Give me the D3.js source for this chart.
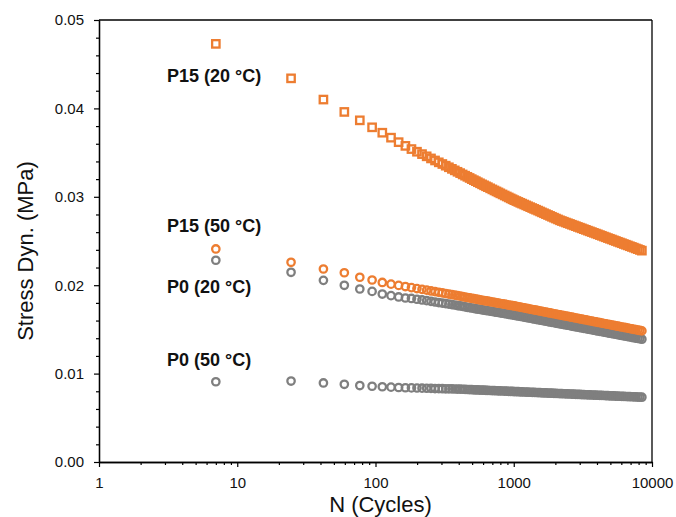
<!DOCTYPE html>
<html>
<head>
<meta charset="utf-8">
<script src="https://cdn.jsdelivr.net/npm/d3@7"></script>
<style>
  html, body { margin: 0; padding: 0; background: #fff; }
  svg { display: block; }
  text { font-family: "Liberation Sans", Arial, sans-serif; }
</style>
</head>
<body>
<svg id="chart" width="676" height="517"></svg>
<script>
// ---------------- DATA ----------------
const cycles = [
  7, 24.5, 42, 59.5, 77, 94.5, 112, 129.5, 147, 164.5,
  182, 199.5, 217, 234.5, 252, 269.5, 287, 304.5, 322, 339.5,
  357, 374.5, 392, 409.5, 427, 444.5, 462, 479.5, 497, 514.5,
  532, 550, 570, 590, 610, 630, 650, 675, 700, 725,
  750, 775, 800, 830, 860, 890, 920, 950, 980, 1010,
  1045, 1080, 1115, 1150, 1190, 1230, 1270, 1315, 1360, 1405,
  1450, 1500, 1550, 1600, 1655, 1710, 1770, 1830, 1890, 1955,
  2020, 2090, 2160, 2230, 2305, 2385, 2465, 2550, 2635, 2725,
  2815, 2910, 3010, 3110, 3215, 3325, 3440, 3555, 3675, 3800,
  3930, 4060, 4200, 4340, 4490, 4640, 4800, 4960, 5130, 5300,
  5480, 5670, 5860, 6060, 6260, 6470, 6690, 6920, 7150, 7390,
  7640, 7900, 8170, 8450
];

const p15_20C = [
  0.0473, 0.0434, 0.0410, 0.0396, 0.03865, 0.03786, 0.03725, 0.03669, 0.03618, 0.03576,
  0.03540, 0.03510, 0.03483, 0.03458, 0.03434, 0.03411, 0.03390, 0.03371, 0.03352, 0.03334,
  0.03316, 0.03299, 0.03283, 0.03268, 0.03253, 0.03239, 0.03226, 0.03213, 0.03200, 0.03188,
  0.03177, 0.03165, 0.03153, 0.03141, 0.03130, 0.03119, 0.03109, 0.03096, 0.03084, 0.03072,
  0.03061, 0.03050, 0.03039, 0.03027, 0.03015, 0.03004, 0.02993, 0.02982, 0.02972, 0.02962,
  0.02952, 0.02942, 0.02932, 0.02923, 0.02913, 0.02903, 0.02893, 0.02883, 0.02873, 0.02863,
  0.02854, 0.02844, 0.02834, 0.02824, 0.02814, 0.02804, 0.02794, 0.02784, 0.02774, 0.02764,
  0.02754, 0.02744, 0.02734, 0.02726, 0.02718, 0.02709, 0.02701, 0.02693, 0.02684, 0.02676,
  0.02668, 0.02659, 0.02651, 0.02643, 0.02634, 0.02626, 0.02617, 0.02609, 0.02601, 0.02592,
  0.02584, 0.02576, 0.02567, 0.02559, 0.02550, 0.02542, 0.02533, 0.02525, 0.02517, 0.02508,
  0.02500, 0.02491, 0.02483, 0.02475, 0.02466, 0.02458, 0.02450, 0.02441, 0.02433, 0.02425,
  0.02416, 0.02408, 0.02399, 0.02391
];

const p15_50C = [
  0.02410, 0.02259, 0.02183, 0.02141, 0.02090, 0.02059, 0.02031, 0.02012, 0.01998, 0.01985,
  0.01973, 0.01962, 0.01953, 0.01944, 0.01935, 0.01927, 0.01920, 0.01913, 0.01906, 0.01900,
  0.01894, 0.01888, 0.01882, 0.01877, 0.01871, 0.01866, 0.01861, 0.01857, 0.01852, 0.01848,
  0.01843, 0.01839, 0.01835, 0.01830, 0.01826, 0.01822, 0.01819, 0.01814, 0.01810, 0.01805,
  0.01801, 0.01797, 0.01793, 0.01789, 0.01785, 0.01780, 0.01776, 0.01772, 0.01769, 0.01765,
  0.01760, 0.01756, 0.01752, 0.01748, 0.01743, 0.01739, 0.01734, 0.01730, 0.01725, 0.01721,
  0.01717, 0.01712, 0.01708, 0.01704, 0.01699, 0.01695, 0.01690, 0.01686, 0.01682, 0.01677,
  0.01673, 0.01668, 0.01664, 0.01660, 0.01655, 0.01651, 0.01647, 0.01642, 0.01638, 0.01633,
  0.01629, 0.01625, 0.01620, 0.01616, 0.01611, 0.01607, 0.01602, 0.01598, 0.01594, 0.01589,
  0.01585, 0.01580, 0.01576, 0.01572, 0.01567, 0.01563, 0.01558, 0.01554, 0.01549, 0.01545,
  0.01541, 0.01536, 0.01532, 0.01527, 0.01523, 0.01519, 0.01514, 0.01510, 0.01505, 0.01501,
  0.01497, 0.01492, 0.01488, 0.01483
];

const p0_20C = [
  0.02282, 0.02146, 0.02055, 0.01999, 0.01957, 0.01930, 0.01900, 0.01882, 0.01867, 0.01855,
  0.01850, 0.01841, 0.01833, 0.01825, 0.01817, 0.01810, 0.01804, 0.01798, 0.01792, 0.01787,
  0.01781, 0.01776, 0.01770, 0.01765, 0.01760, 0.01755, 0.01750, 0.01747, 0.01742, 0.01738,
  0.01733, 0.01730, 0.01726, 0.01722, 0.01718, 0.01714, 0.01711, 0.01706, 0.01703, 0.01698,
  0.01694, 0.01691, 0.01687, 0.01683, 0.01679, 0.01675, 0.01671, 0.01667, 0.01664, 0.01660,
  0.01655, 0.01652, 0.01648, 0.01644, 0.01639, 0.01635, 0.01630, 0.01627, 0.01622, 0.01618,
  0.01614, 0.01609, 0.01605, 0.01602, 0.01597, 0.01593, 0.01588, 0.01584, 0.01580, 0.01576,
  0.01572, 0.01567, 0.01563, 0.01559, 0.01554, 0.01551, 0.01547, 0.01542, 0.01538, 0.01533,
  0.01529, 0.01526, 0.01521, 0.01517, 0.01512, 0.01508, 0.01503, 0.01500, 0.01496, 0.01491,
  0.01487, 0.01482, 0.01478, 0.01475, 0.01470, 0.01466, 0.01461, 0.01457, 0.01452, 0.01449,
  0.01445, 0.01440, 0.01436, 0.01431, 0.01427, 0.01424, 0.01419, 0.01415, 0.01410, 0.01406,
  0.01402, 0.01398, 0.01394, 0.01389
];

const p0_50C = [
  0.00908, 0.00916, 0.00894, 0.00879, 0.00865, 0.00857, 0.00851, 0.00847, 0.00843, 0.00840,
  0.00838, 0.00837, 0.00835, 0.00834, 0.00833, 0.00831, 0.00830, 0.00829, 0.00828, 0.00827,
  0.00827, 0.00826, 0.00825, 0.00824, 0.00823, 0.00822, 0.00820, 0.00819, 0.00818, 0.00817,
  0.00816, 0.00815, 0.00814, 0.00813, 0.00812, 0.00811, 0.00810, 0.00809, 0.00808, 0.00807,
  0.00806, 0.00805, 0.00804, 0.00803, 0.00802, 0.00801, 0.00800, 0.00799, 0.00798, 0.00797,
  0.00796, 0.00795, 0.00794, 0.00793, 0.00792, 0.00791, 0.00790, 0.00789, 0.00788, 0.00787,
  0.00786, 0.00785, 0.00784, 0.00783, 0.00782, 0.00781, 0.00780, 0.00779, 0.00778, 0.00777,
  0.00776, 0.00775, 0.00774, 0.00773, 0.00772, 0.00771, 0.00770, 0.00769, 0.00768, 0.00767,
  0.00766, 0.00765, 0.00764, 0.00763, 0.00762, 0.00761, 0.00760, 0.00759, 0.00758, 0.00757,
  0.00756, 0.00755, 0.00754, 0.00753, 0.00752, 0.00751, 0.00750, 0.00749, 0.00748, 0.00747,
  0.00746, 0.00745, 0.00744, 0.00743, 0.00742, 0.00741, 0.00740, 0.00739, 0.00738, 0.00737,
  0.00736, 0.00735, 0.00734, 0.00733
];

const seriesNames = ["P0 (50 °C)", "P0 (20 °C)", "P15 (50 °C)", "P15 (20 °C)"];
const xTickValues = [1, 10, 100, 1000, 10000];
const yTickValues = [0, 0.01, 0.02, 0.03, 0.04, 0.05];
const xTitle = "N (Cycles)";
const yTitle = "Stress Dyn. (MPa)";

// ---------------- LAYOUT / STYLE ----------------
const ORANGE = "#ED7D31";
const GRAY = "#7F7F7F";
const L = 99, R = 652, T = 20, B = 462;

const svg = d3.select("#chart");
const x = d3.scaleLog().domain([1, 10000]).range([L, R]);
const y = d3.scaleLinear().domain([0, 0.05]).range([B, T]);

const series = [
  { name: seriesNames[0], values: p0_50C,  color: GRAY,   shape: "circle", label: [167, 366] },
  { name: seriesNames[1], values: p0_20C,  color: GRAY,   shape: "circle", label: [167, 293] },
  { name: seriesNames[2], values: p15_50C, color: ORANGE, shape: "circle", label: [167, 232] },
  { name: seriesNames[3], values: p15_20C, color: ORANGE, shape: "square", label: [167, 82] }
];

// minor ticks
const xMinor = [];
[1, 10, 100, 1000].forEach(d => { for (let k = 2; k <= 9; k++) xMinor.push(d * k); });
const yMinor = d3.range(0, 0.0501, 0.002).filter(v => Math.abs(v * 100 - Math.round(v * 100)) > 1e-6);

// axes
const axStroke = 1.3;
const gx = svg.append("g").attr("transform", `translate(0,${B})`)
  .call(d3.axisBottom(x).tickValues(xTickValues).tickFormat(d3.format("d")).tickSize(5).tickPadding(10).tickSizeOuter(0));
const gxm = svg.append("g").attr("transform", `translate(0,${B})`)
  .call(d3.axisBottom(x).tickValues(xMinor).tickFormat("").tickSize(3).tickSizeOuter(0));
const gy = svg.append("g").attr("transform", `translate(${L},0)`)
  .call(d3.axisLeft(y).tickValues(yTickValues).tickFormat(d3.format(".2f")).tickSize(5).tickPadding(10).tickSizeOuter(0));
const gym = svg.append("g").attr("transform", `translate(${L},0)`)
  .call(d3.axisLeft(y).tickValues(yMinor).tickFormat("").tickSize(3).tickSizeOuter(0));

[gx, gxm, gy, gym].forEach(g => {
  g.selectAll("path.domain").attr("stroke", "#000").attr("stroke-width", axStroke);
  g.selectAll(".tick line").attr("stroke", "#000").attr("stroke-width", 1.2);
  g.selectAll(".tick text").attr("font-size", 15).attr("fill", "#111")
    .attr("font-family", "'Liberation Sans', Arial, sans-serif");
});

// frame top & right
svg.append("line").attr("x1", L).attr("x2", R).attr("y1", T).attr("y2", T)
  .attr("stroke", "#000").attr("stroke-width", axStroke);
svg.append("line").attr("x1", R).attr("x2", R).attr("y1", T).attr("y2", B)
  .attr("stroke", "#000").attr("stroke-width", axStroke);

// markers
const n = cycles.length;
series.forEach(s => {
  const pts = d3.range(Math.min(n, s.values.length)).map(i => ({ c: cycles[i], v: s.values[i] }));
  const g = svg.append("g");
  if (s.shape === "circle") {
    g.selectAll("circle").data(pts).join("circle")
      .attr("cx", d => x(d.c)).attr("cy", d => y(d.v)).attr("r", 3.7)
      .attr("fill", "none").attr("stroke", s.color).attr("stroke-width", 2.3);
  } else {
    const side = 7.4;
    g.selectAll("rect").data(pts).join("rect")
      .attr("x", d => x(d.c) - side / 2).attr("y", d => y(d.v) - side / 2)
      .attr("width", side).attr("height", side)
      .attr("fill", "none").attr("stroke", s.color).attr("stroke-width", 2.3);
  }
});

// series labels
series.forEach(s => {
  svg.append("text").attr("x", s.label[0]).attr("y", s.label[1])
    .attr("font-size", 18).attr("font-weight", "bold").attr("fill", "#111")
    .text(s.name);
});

// axis titles
svg.append("text").attr("x", (L + R) / 2 + 5).attr("y", 512)
  .attr("text-anchor", "middle").attr("font-size", 22).attr("fill", "#111")
  .text(xTitle);
svg.append("text").attr("transform", `translate(33,${(T + B) / 2 + 10}) rotate(-90)`)
  .attr("text-anchor", "middle").attr("font-size", 22).attr("fill", "#111")
  .text(yTitle);
</script>
</body>
</html>
